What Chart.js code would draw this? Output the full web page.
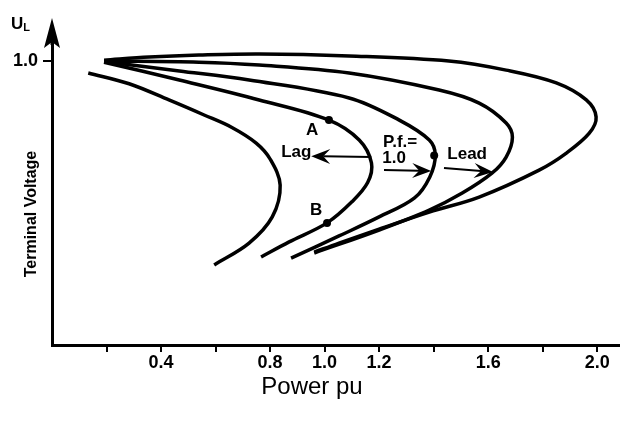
<!DOCTYPE html>
<html>
<head>
<meta charset="utf-8">
<script src="https://cdn.jsdelivr.net/npm/chart.js@4.4.0/dist/chart.umd.min.js"></script>
<style>
  body { margin: 0; background: #fff; }
</style>
</head>
<body>
<canvas id="pv-chart" width="626" height="421"></canvas>
<script>
// Axis ticks
const xTickValues = [0.2, 0.4, 0.6, 0.8, 1.0, 1.2, 1.4, 1.6, 1.8, 2.0];
const xTickLabels = ['', '0.4', '', '0.8', '1.0', '1.2', '', '1.6', '', '2.0'];
const yTickValues = [1.0];
const yTickLabels = ['1.0'];

// Nose curves, [power pu, terminal voltage]
const curve1 = [[0.133, 0.958], [0.283, 0.920], [0.429, 0.863], [0.558, 0.810], [0.660, 0.766],
  [0.749, 0.711], [0.800, 0.655], [0.837, 0.563], [0.808, 0.451], [0.723, 0.359], [0.595, 0.282]];
const curve2 = [[0.191, 0.996], [0.467, 0.933], [0.760, 0.863], [1.016, 0.792], [1.127, 0.722],
  [1.172, 0.641], [1.158, 0.572], [1.101, 0.505], [1.009, 0.430], [0.870, 0.363], [0.767, 0.310]];
const curve3 = [[0.191, 0.998], [0.467, 0.965], [0.723, 0.933], [1.090, 0.870], [1.274, 0.792],
  [1.384, 0.722], [1.406, 0.669], [1.386, 0.592], [1.330, 0.518], [1.200, 0.451], [1.053, 0.384], [0.877, 0.306]];
const curve4 = [[0.191, 1.000], [0.539, 0.996], [0.760, 0.986], [1.090, 0.958], [1.420, 0.898],
  [1.567, 0.852], [1.666, 0.782], [1.689, 0.732], [1.666, 0.662], [1.615, 0.606], [1.505, 0.535],
  [1.384, 0.475], [1.200, 0.405], [0.962, 0.324]];
const curve5 = [[0.191, 1.003], [0.357, 1.014], [0.539, 1.021], [0.760, 1.025], [1.090, 1.018],
  [1.456, 1.000], [1.666, 0.968], [1.850, 0.923], [1.960, 0.863], [1.996, 0.803], [1.971, 0.746],
  [1.887, 0.676], [1.787, 0.616], [1.567, 0.521], [1.384, 0.468], [1.200, 0.408], [1.053, 0.359], [0.962, 0.327]];

// Points A, B and the unity power factor point
const markerPoints = [[1.016, 0.792], [1.009, 0.430], [1.402, 0.667]];

// Arrows, [from, to]
const arrowLag = [[1.171, 0.662], [0.951, 0.665]];
const arrowUnity = [[1.218, 0.616], [1.391, 0.613]];
const arrowLead = [[1.438, 0.623], [1.618, 0.609]];

// Annotation texts
const noteTexts = ['A', 'B', 'Lag', 'P.f.=', '1.0', 'Lead'];
const noteX = [0.954, 0.969, 0.896, 1.277, 1.255, 1.523];
const noteY = [0.757, 0.475, 0.680, 0.715, 0.658, 0.673];

const FONT = "'Liberation Sans', Arial, Helvetica, sans-serif";

function toXY(pairs) {
  return pairs.map(p => ({ x: p[0], y: p[1] }));
}

function curveDataset(pairs) {
  return {
    data: toXY(pairs),
    showLine: true,
    borderColor: '#000',
    borderWidth: 3.5,
    pointRadius: 0,
    tension: 0.35,
    fill: false
  };
}

// Draw an arrow with a notched head between two data points
function drawArrow(ctx, xs, ys, pair) {
  const x1 = xs.getPixelForValue(pair[0][0]);
  const y1 = ys.getPixelForValue(pair[0][1]);
  const x2 = xs.getPixelForValue(pair[1][0]);
  const y2 = ys.getPixelForValue(pair[1][1]);
  const ang = Math.atan2(y2 - y1, x2 - x1);
  const len = 19, half = 7.5, notch = 12;
  const bx = x2 - Math.cos(ang) * len;
  const by = y2 - Math.sin(ang) * len;
  ctx.strokeStyle = '#000';
  ctx.lineWidth = 2;
  ctx.beginPath();
  ctx.moveTo(x1, y1);
  ctx.lineTo(x2 - Math.cos(ang) * notch, y2 - Math.sin(ang) * notch);
  ctx.stroke();
  ctx.fillStyle = '#000';
  ctx.beginPath();
  ctx.moveTo(x2, y2);
  ctx.lineTo(bx - Math.sin(ang) * half, by + Math.cos(ang) * half);
  ctx.lineTo(x2 - Math.cos(ang) * notch, y2 - Math.sin(ang) * notch);
  ctx.lineTo(bx + Math.sin(ang) * half, by - Math.cos(ang) * half);
  ctx.closePath();
  ctx.fill();
}

const decorPlugin = {
  id: 'decor',
  afterDraw(chart) {
    const ctx = chart.ctx;
    const area = chart.chartArea;
    const xs = chart.scales.x;
    const ys = chart.scales.y;
    ctx.save();

    // y axis arrow
    ctx.strokeStyle = '#000';
    ctx.lineWidth = 3;
    ctx.beginPath();
    ctx.moveTo(area.left, area.top + 1);
    ctx.lineTo(area.left, 34);
    ctx.stroke();
    ctx.fillStyle = '#000';
    ctx.beginPath();
    ctx.moveTo(area.left, 18);
    ctx.lineTo(area.left - 8, 48);
    ctx.lineTo(area.left, 42);
    ctx.lineTo(area.left + 8, 48);
    ctx.closePath();
    ctx.fill();

    // U_L label
    ctx.textBaseline = 'alphabetic';
    ctx.textAlign = 'left';
    ctx.font = 'bold 17px ' + FONT;
    ctx.fillText('U', 11, 29);
    const uw = ctx.measureText('U').width;
    ctx.font = 'bold 11px ' + FONT;
    ctx.fillText('L', 11 + uw, 31);

    // axis titles
    ctx.textAlign = 'center';
    ctx.textBaseline = 'middle';
    ctx.font = '24px ' + FONT;
    ctx.fillText('Power pu', 312, 387);
    ctx.save();
    ctx.translate(32, 214);
    ctx.rotate(-Math.PI / 2);
    ctx.font = 'bold 16px ' + FONT;
    ctx.fillText('Terminal Voltage', 0, 0);
    ctx.restore();

    // arrows
    [arrowLag, arrowUnity, arrowLead].forEach(a => drawArrow(ctx, xs, ys, a));

    // annotation texts
    ctx.font = 'bold 17px ' + FONT;
    ctx.textAlign = 'center';
    ctx.textBaseline = 'middle';
    noteTexts.forEach((t, i) => {
      ctx.fillText(t, xs.getPixelForValue(noteX[i]), ys.getPixelForValue(noteY[i]));
    });
    ctx.restore();
  }
};

const ctx = document.getElementById('pv-chart').getContext('2d');
new Chart(ctx, {
  type: 'scatter',
  data: {
    datasets: [
      curveDataset(curve1),
      curveDataset(curve2),
      curveDataset(curve3),
      curveDataset(curve4),
      curveDataset(curve5),
      {
        data: toXY(markerPoints),
        pointRadius: 4,
        pointBackgroundColor: '#000',
        pointBorderWidth: 0,
        showLine: false
      }
    ]
  },
  options: {
    responsive: false,
    animation: false,
    devicePixelRatio: 1,
    layout: { padding: { top: 44, right: 7, left: 0, bottom: 0 } },
    plugins: {
      legend: { display: false },
      tooltip: { enabled: false }
    },
    scales: {
      x: {
        type: 'linear',
        min: 0,
        max: 2.08,
        afterBuildTicks: scale => { scale.ticks = xTickValues.map(v => ({ value: v })); },
        afterFit: scale => { scale.height = 76; },
        ticks: {
          callback: (value, index) => xTickLabels[index],
          autoSkip: false,
          maxRotation: 0,
          padding: 0,
          color: '#000',
          font: { family: FONT, size: 18, weight: 'bold' }
        },
        grid: {
          display: true,
          drawOnChartArea: false,
          drawTicks: true,
          tickLength: 7,
          color: '#000',
          lineWidth: 2
        },
        border: { display: true, color: '#000', width: 3 }
      },
      y: {
        type: 'linear',
        min: 0,
        max: 1.06,
        afterBuildTicks: scale => { scale.ticks = yTickValues.map(v => ({ value: v })); },
        afterFit: scale => { scale.width = 52; },
        ticks: {
          callback: (value, index) => yTickLabels[index],
          padding: 5,
          color: '#000',
          font: { family: FONT, size: 18, weight: 'bold' }
        },
        grid: {
          display: true,
          drawOnChartArea: false,
          drawTicks: true,
          tickLength: 9,
          color: '#000',
          lineWidth: 2
        },
        border: { display: true, color: '#000', width: 3 }
      }
    }
  },
  plugins: [decorPlugin]
});
</script>
</body>
</html>
